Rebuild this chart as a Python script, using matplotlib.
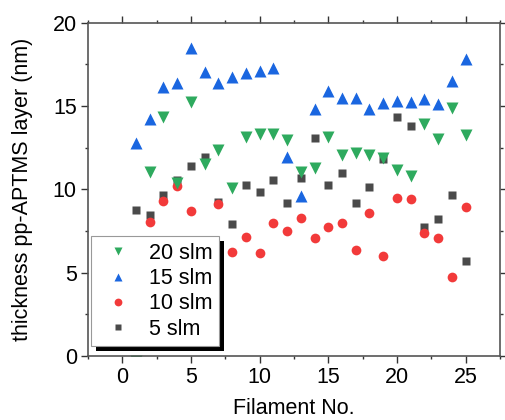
import matplotlib
matplotlib.use("Agg")
import matplotlib.pyplot as plt
from matplotlib.patches import Rectangle
from matplotlib.ticker import MultipleLocator

plt.rcParams['font.family'] = ['Liberation Sans', 'DejaVu Sans']

# thickness per filament (nm)
fil_20 = list(range(1, 26))
slm_20 = [-0.3, 11.06, 14.36, 10.4, 15.26, 11.5, 12.36, 10.1, 13.16, 13.3, 13.3, 12.96, 11.06,
          11.26, 13.16, 12.06, 12.16, 12.06, 11.9, 11.16, 10.8, 13.9, 13.0, 14.9, 13.26]

fil_15 = list(range(1, 26))
slm_15 = [12.76, 14.24, 16.16, 16.4, 18.5, 17.06, 16.4, 16.76, 16.96, 17.1, 17.3, 11.96, 9.6,
          14.8, 15.9, 15.5, 15.5, 14.8, 15.2, 15.3, 15.25, 15.4, 15.1, 16.5, 17.8]

fil_10 = [2, 3, 4, 5, 7, 8, 9, 10, 11, 12, 13, 14, 15, 16, 17, 18, 19, 20, 21, 22, 23, 24, 25]
slm_10 = [8.05, 9.3, 10.18, 8.72, 9.12, 6.26, 7.12, 6.2, 8.0, 7.52, 8.3, 7.1, 7.72, 7.98,
          6.38, 8.56, 6.0, 9.48, 9.42, 7.4, 7.1, 4.76, 8.96]

fil_5 = list(range(1, 26))
slm_5 = [8.74, 8.46, 9.64, 10.58, 11.4, 11.94, 9.24, 7.9, 10.24, 9.86, 10.56, 9.16, 10.66,
         13.1, 10.26, 11.0, 9.16, 10.16, 11.8, 14.32, 13.82, 7.72, 8.24, 9.64, 5.7]

fig = plt.figure(figsize=(5.05, 4.2), dpi=100)
ax = fig.add_axes([0.174, 0.152, 0.816, 0.794])

ax.plot(fil_5, slm_5, linestyle="none", marker="s", ms=6, color="#4a4a4a", mec="none", label="5 slm")
ax.plot(fil_10, slm_10, linestyle="none", marker="o", ms=7, color="#f23a3a", mec="none", label="10 slm")
ax.plot(fil_15, slm_15, linestyle="none", marker="^", ms=8, color="#1a66e0", mec="none", label="15 slm")
ax.plot(fil_20, slm_20, linestyle="none", marker="v", ms=8, color="#2eaa5e", mec="none", label="20 slm")

ax.set_xlim(-2.5, 27.5)
ax.set_ylim(0, 20)
ax.xaxis.set_major_locator(MultipleLocator(5))
ax.xaxis.set_minor_locator(MultipleLocator(2.5))
ax.yaxis.set_major_locator(MultipleLocator(5))
ax.yaxis.set_minor_locator(MultipleLocator(2.5))
ax.tick_params(which="both", direction="out", top=True, right=True, labelsize=15.5, width=1,
               color="#333333", pad=3)
ax.tick_params(which="major", length=5)
ax.tick_params(which="minor", length=2.5)
for sp in ax.spines.values():
    sp.set_color("#555555")
    sp.set_linewidth(1.2)

ax.set_xlabel("Filament No.", fontsize=15.5, labelpad=7)
ax.set_ylabel("thickness pp-APTMS layer (nm)", fontsize=15.5, labelpad=14)

handles, labels = ax.get_legend_handles_labels()
leg = ax.legend(handles[::-1], labels[::-1], loc="lower left", bbox_to_anchor=(0.0073, 0.03),
                borderaxespad=0, fontsize=15.5, fancybox=False, framealpha=1,
                edgecolor="#999999", handletextpad=0.5, borderpad=0.3, labelspacing=0.2,
                handlelength=1.9, markerscale=0.8)
leg.get_frame().set_linewidth(0.8)
leg.set_zorder(5)

# thick black drop shadow behind the legend box
fig.canvas.draw()
bb = leg.get_frame().get_window_extent().transformed(fig.transFigure.inverted())
off_x, off_y = 5 / 505, 5 / 420
shadow = Rectangle((bb.x0 + off_x, bb.y0 - off_y), bb.width, bb.height, transform=fig.transFigure,
                   facecolor="black", edgecolor="none", zorder=4)
ax.add_artist(shadow)
shadow.set_clip_on(False)

fig.savefig("out.png", dpi=100)
